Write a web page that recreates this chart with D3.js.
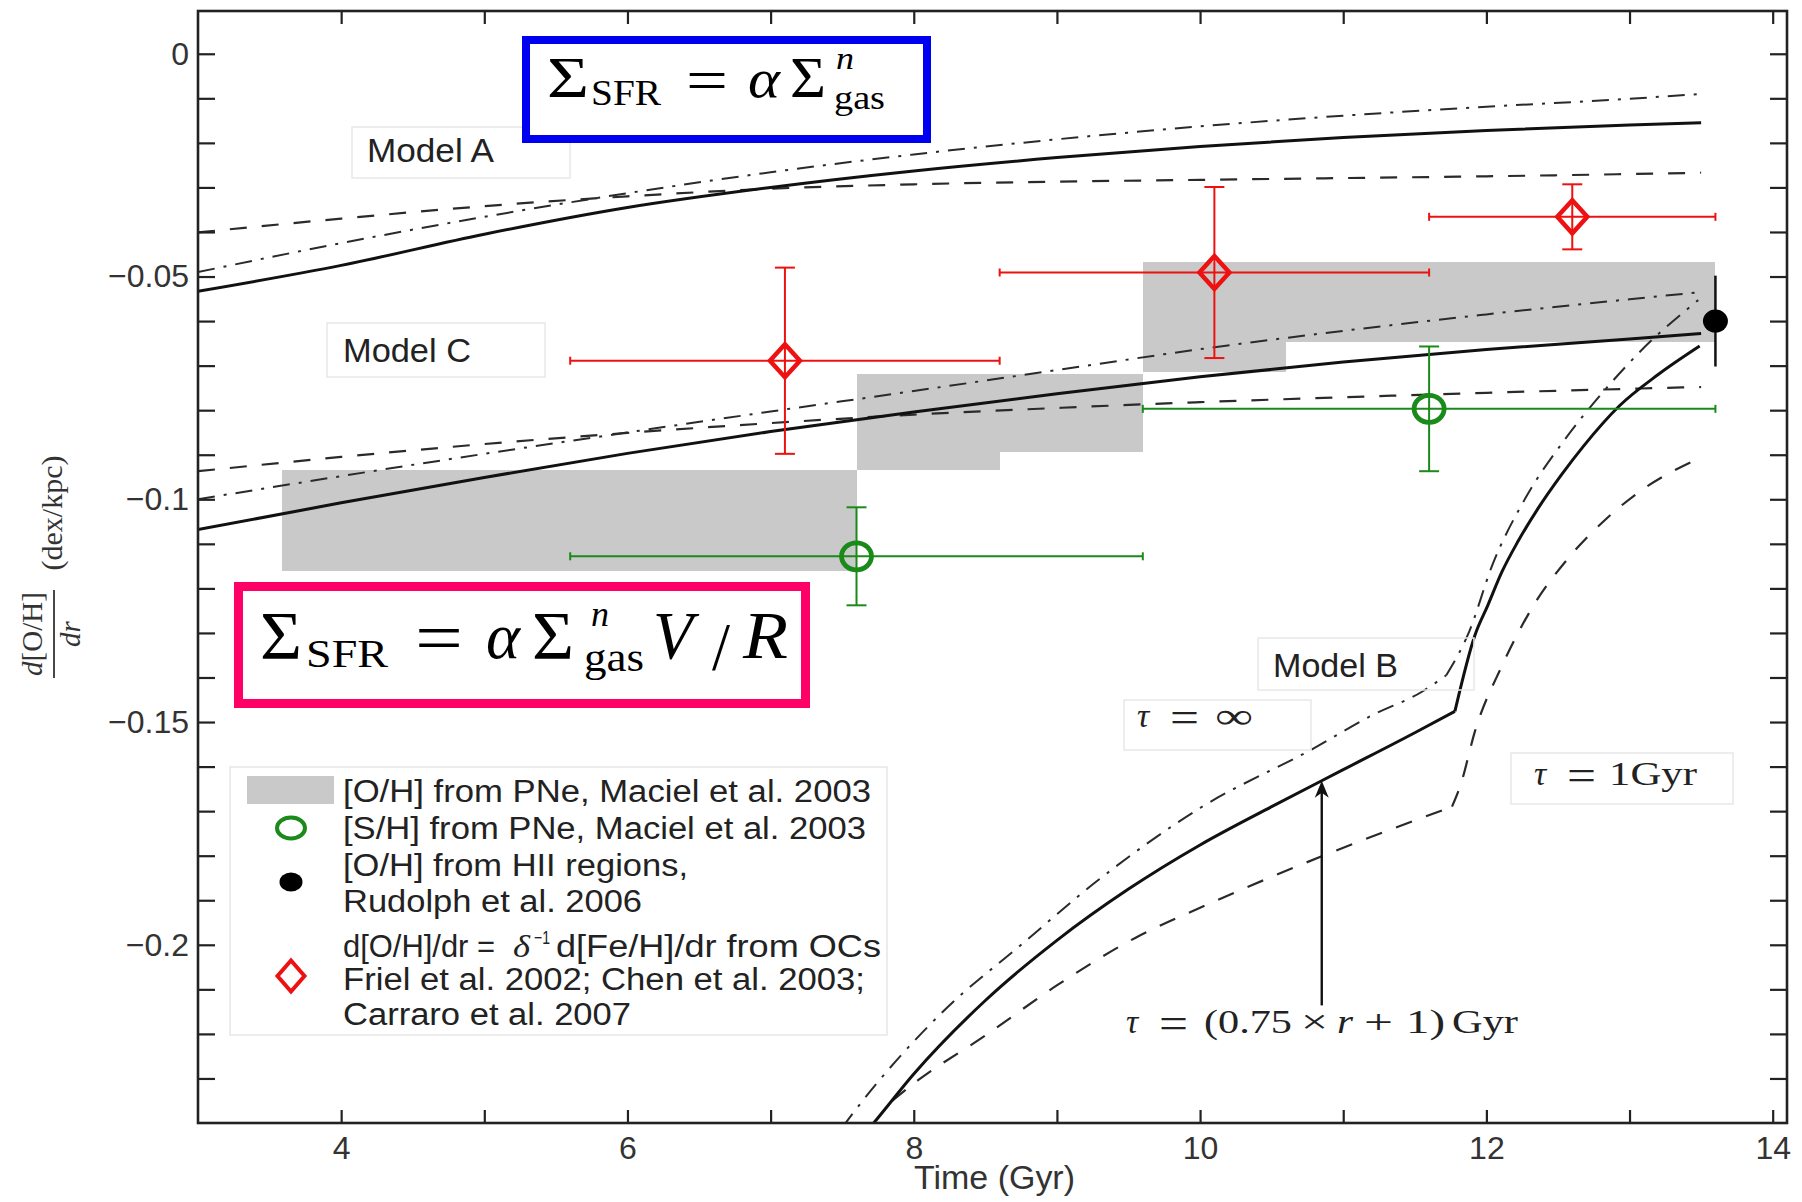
<!DOCTYPE html>
<html><head><meta charset="utf-8">
<script src="https://cdn.jsdelivr.net/npm/d3@7"></script>
<style>body{margin:0;background:#fff}svg{display:block}</style>
</head><body>
<svg id="chart" width="1802" height="1202"></svg>
<script>
// ---------------- DATA ----------------
const modelX = [3, 4, 5, 6, 7, 8, 9, 10, 11, 12, 13, 13.5];
const modelA_solid   = [-0.0533,-0.0475,-0.0405,-0.0345,-0.0300,-0.0263,-0.0233,-0.0208,-0.0188,-0.0172,-0.0160,-0.0155];
const modelA_dashed  = [-0.0401,-0.0370,-0.0342,-0.0320,-0.0303,-0.0293,-0.0287,-0.0283,-0.0279,-0.0275,-0.0270,-0.0267];
const modelA_dashdot = [-0.0490,-0.0425,-0.0366,-0.0313,-0.0266,-0.0226,-0.0192,-0.0163,-0.0139,-0.0119,-0.0101,-0.0090];
const modelC_solid   = [-0.1068,-0.1008,-0.0951,-0.0897,-0.0848,-0.0804,-0.0763,-0.0725,-0.0692,-0.0664,-0.0640,-0.0628];
const modelC_dashed  = [-0.0937,-0.0905,-0.0876,-0.0851,-0.0829,-0.0810,-0.0795,-0.0782,-0.0771,-0.0761,-0.0752,-0.0748];
const modelC_dashdot = [-0.1000,-0.0948,-0.0898,-0.0850,-0.0803,-0.0757,-0.0710,-0.0663,-0.0622,-0.0585,-0.0551,-0.0535];

const modelB_solid_x = [7.6, 7.72, 8.0, 8.5, 9.0, 9.5, 10.0, 10.5, 11.0, 11.5, 11.78, 11.92, 12.01, 12.11, 12.22, 12.36, 12.52, 12.68, 12.93, 13.2, 13.49];
const modelB_solid_y = [-0.2445,-0.2400,-0.2290,-0.2125,-0.1990,-0.1875,-0.1776,-0.1690,-0.1607,-0.1524,-0.1476,-0.1305,-0.1238,-0.1162,-0.1095,-0.1021,-0.0947,-0.0880,-0.0790,-0.0720,-0.0656];
const modelB_solid_kink = 10;
const modelB_dashdot_x = [7.5, 7.58, 8.21, 8.75, 9.28, 10.0, 10.8, 11.2, 11.55, 11.72, 11.88, 12.04, 12.27, 12.55, 12.8, 13.1, 13.48];
const modelB_dashdot_y = [-0.2410,-0.2376,-0.2148,-0.2000,-0.1857,-0.1693,-0.1558,-0.1485,-0.1432,-0.1395,-0.1297,-0.1149,-0.0999,-0.0865,-0.0765,-0.0660,-0.0553];
const modelB_dashdot_kink = 9;
const modelB_dashed_x = [7.85, 8.03, 8.48, 9.01, 9.55, 10.0, 10.86, 11.76, 11.82, 11.92, 12.11, 12.33, 12.57, 12.84, 13.1, 13.48];
const modelB_dashed_y = [-0.2350,-0.2304,-0.2208,-0.2089,-0.1984,-0.1917,-0.1800,-0.1690,-0.1641,-0.1521,-0.1373,-0.1238,-0.1133,-0.1043,-0.0976,-0.0909];
const modelB_dashed_kink = 7;

// [O/H] from PNe (grey boxes)
const pneX0  = [3.59, 7.6, 8.6, 9.6, 10.6];
const pneX1  = [7.6, 8.6, 9.6, 10.6, 13.6];
const pneYlo = [-0.1162,-0.0934,-0.0893,-0.0714,-0.0647];
const pneYhi = [-0.0934,-0.0718,-0.0718,-0.0467,-0.0467];

// [S/H] from PNe (green circles)
const shX    = [7.6, 11.6];
const shY    = [-0.1128, -0.0797];
const shXlo  = [5.6, 9.6];
const shXhi  = [9.6, 13.6];
const shYerr = [0.0110, 0.0140];

// OCs (red diamonds)
const ocX    = [7.1, 10.1, 12.6];
const ocY    = [-0.0689, -0.0491, -0.0366];
const ocXlo  = [5.6, 8.6, 11.6];
const ocXhi  = [8.6, 11.6, 13.6];
const ocYerr = [0.0209, 0.0192, 0.0073];

// HII regions (black dot)
const hiiX = [13.6];
const hiiY = [-0.0600];
const hiiYerr = [0.0102];

// ticks
const xTicks = [4,5,6,7,8,9,10,11,12,13,14];
const xTickLabels = ["4","","6","","8","","10","","12","","14"];
const yTicks = [0,-0.01,-0.02,-0.03,-0.04,-0.05,-0.06,-0.07,-0.08,-0.09,-0.1,-0.11,-0.12,-0.13,-0.14,-0.15,-0.16,-0.17,-0.18,-0.19,-0.2,-0.21,-0.22,-0.23];
const yTickLabels = ["0","","","","","\u22120.05","","","","","\u22120.1","","","","","\u22120.15","","","","","\u22120.2","","",""];

const legendLines = [
  "[O/H] from PNe, Maciel et al. 2003",
  "[S/H] from PNe, Maciel et al. 2003",
  "[O/H] from HII regions,",
  "Rudolph et al. 2006",
  null,
  "Friel et al. 2002; Chen et al. 2003;",
  "Carraro et al. 2007"
];

// ---------------- LAYOUT ----------------
const W = 1802, H = 1202;
const L = 198, R = 1787, T = 11, B = 1123;
const SANS = "'Liberation Sans', Arial, Helvetica, sans-serif";
const SERIF = "'Liberation Serif', 'Times New Roman', serif";

const x = d3.scaleLinear().domain([3, 14.1]).range([L, R]);
const y = d3.scaleLinear().domain([-0.24, 0.0096]).range([B, T]);

const svg = d3.select("#chart");
svg.append("rect").attr("width", W).attr("height", H).attr("fill", "#fff");
svg.append("defs").append("clipPath").attr("id", "clip")
  .append("rect").attr("x", L).attr("y", T).attr("width", R - L).attr("height", B - T);

const plot = svg.append("g").attr("clip-path", "url(#clip)");

// grey boxes
plot.selectAll("rect.pne").data(d3.range(pneX0.length)).join("rect")
  .attr("class", "pne")
  .attr("x", i => x(pneX0[i])).attr("width", i => x(pneX1[i]) - x(pneX0[i]))
  .attr("y", i => y(pneYhi[i])).attr("height", i => y(pneYlo[i]) - y(pneYhi[i]))
  .attr("fill", "#c9c9c9").attr("shape-rendering", "crispEdges");

// model lines
const styles = {
  solid:   {w: 3,   dash: null,        c: "#111"},
  dashed:  {w: 2.2, dash: "17 15",     c: "#2a2a2a"},
  dashdot: {w: 2.0, dash: "17 9 3 9",  c: "#2a2a2a"}
};
const lineGen = d3.line().x(d => x(d[0])).y(d => y(d[1])).curve(d3.curveMonotoneX);
function drawSeries(xs, ys, st, kink) {
  const pts = xs.map((v, i) => [v, ys[i]]);
  const parts = kink == null ? [pts] : [pts.slice(0, kink + 1), pts.slice(kink)];
  const s = styles[st];
  parts.forEach(p => {
    plot.append("path").attr("d", lineGen(p)).attr("fill", "none")
      .attr("stroke", s.c).attr("stroke-width", s.w)
      .attr("stroke-dasharray", s.dash).attr("stroke-linejoin", "round");
  });
}
drawSeries(modelX, modelA_dashed, "dashed");
drawSeries(modelX, modelA_dashdot, "dashdot");
drawSeries(modelX, modelA_solid, "solid");
drawSeries(modelX, modelC_dashed, "dashed");
drawSeries(modelX, modelC_dashdot, "dashdot");
drawSeries(modelX, modelC_solid, "solid");
drawSeries(modelB_dashed_x, modelB_dashed_y, "dashed", modelB_dashed_kink);
drawSeries(modelB_dashdot_x, modelB_dashdot_y, "dashdot", modelB_dashdot_kink);
drawSeries(modelB_solid_x, modelB_solid_y, "solid", modelB_solid_kink);

// error bars helper
function errBars(xs, ys, xlo, xhi, yerr, color, capY, capX, w) {
  const g = plot.append("g").attr("stroke", color).attr("stroke-width", w).attr("fill", "none");
  xs.forEach((xv, i) => {
    const cx = x(xv), cy = y(ys[i]);
    if (xlo) {
      g.append("line").attr("x1", x(xlo[i])).attr("x2", x(xhi[i])).attr("y1", cy).attr("y2", cy);
      if (capX > 0) {
        g.append("line").attr("x1", x(xlo[i])).attr("x2", x(xlo[i])).attr("y1", cy - capX).attr("y2", cy + capX);
        g.append("line").attr("x1", x(xhi[i])).attr("x2", x(xhi[i])).attr("y1", cy - capX).attr("y2", cy + capX);
      }
    }
    const yt = y(ys[i] + yerr[i]), yb = y(ys[i] - yerr[i]);
    g.append("line").attr("x1", cx).attr("x2", cx).attr("y1", yt).attr("y2", yb);
    if (capY > 0) {
      g.append("line").attr("x1", cx - capY).attr("x2", cx + capY).attr("y1", yt).attr("y2", yt);
      g.append("line").attr("x1", cx - capY).attr("x2", cx + capY).attr("y1", yb).attr("y2", yb);
    }
  });
}
const RED = "#ee1111", GREEN = "#1a8a1a";
errBars(shX, shY, shXlo, shXhi, shYerr, GREEN, 10, 4, 2);
errBars(ocX, ocY, ocXlo, ocXhi, ocYerr, RED, 10, 4, 2);
errBars(hiiX, hiiY, null, null, hiiYerr, "#111", 0, 0, 2.5);

// markers
plot.selectAll("ellipse.sh").data(d3.range(shX.length)).join("ellipse")
  .attr("cx", i => x(shX[i])).attr("cy", i => y(shY[i])).attr("rx", 15).attr("ry", 13.5)
  .attr("fill", "none").attr("stroke", GREEN).attr("stroke-width", 4.8);
function diamond(cx, cy, hw, hh) { return `M${cx},${cy-hh}L${cx+hw},${cy}L${cx},${cy+hh}L${cx-hw},${cy}Z`; }
plot.selectAll("path.oc").data(d3.range(ocX.length)).join("path")
  .attr("d", i => diamond(x(ocX[i]), y(ocY[i]), 15, 16.5))
  .attr("fill", "none").attr("stroke", RED).attr("stroke-width", 4.5).attr("stroke-linejoin", "miter");
plot.selectAll("ellipse.hii").data(d3.range(hiiX.length)).join("ellipse")
  .attr("cx", i => x(hiiX[i])).attr("cy", i => y(hiiY[i])).attr("rx", 12.5).attr("ry", 11.5).attr("fill", "#000");

// ---------------- AXES ----------------
const axG = svg.append("g");
axG.append("g").attr("transform", `translate(0,${B})`)
  .call(d3.axisBottom(x).tickValues(xTicks).tickFormat((d, i) => xTickLabels[i]).tickSize(-13).tickSizeOuter(0).tickPadding(13));
axG.append("g").attr("transform", `translate(0,${T})`)
  .call(d3.axisTop(x).tickValues(xTicks).tickFormat("").tickSize(-13).tickSizeOuter(0));
axG.append("g").attr("transform", `translate(${L},0)`)
  .call(d3.axisLeft(y).tickValues(yTicks).tickFormat((d, i) => yTickLabels[i]).tickSize(-17).tickSizeOuter(0).tickPadding(9));
axG.append("g").attr("transform", `translate(${R},0)`)
  .call(d3.axisRight(y).tickValues(yTicks).tickFormat("").tickSize(-17).tickSizeOuter(0));
axG.selectAll(".domain").remove();
axG.selectAll(".tick line").attr("stroke", "#222").attr("stroke-width", 2.2);
axG.selectAll(".tick text").attr("font-family", SANS).attr("font-size", 32).attr("fill", "#333");
axG.append("rect").attr("x", L).attr("y", T).attr("width", R - L).attr("height", B - T)
  .attr("fill", "none").attr("stroke", "#222").attr("stroke-width", 2.6);

// x label
svg.append("text").attr("x", 914).attr("y", 1189).attr("font-family", SANS).attr("font-size", 33)
  .attr("fill", "#333").attr("textLength", 161).attr("lengthAdjust", "spacingAndGlyphs").text("Time (Gyr)");

// y label (fraction)
const yl = svg.append("g").attr("transform", "translate(54,565) rotate(-90)")
  .attr("font-family", SERIF).attr("fill", "#333");
yl.append("line").attr("x1", -113).attr("x2", -25).attr("y1", 0).attr("y2", 0).attr("stroke", "#333").attr("stroke-width", 1.8);
const num = yl.append("text").attr("x", -69).attr("y", -12).attr("text-anchor", "middle").attr("font-size", 29);
num.append("tspan").attr("font-style", "italic").text("d");
num.append("tspan").text("[O/H]");
yl.append("text").attr("x", -69).attr("y", 26).attr("text-anchor", "middle").attr("font-size", 29).attr("font-style", "italic").text("dr");
yl.append("text").attr("x", 52).attr("y", 8).attr("text-anchor", "middle").attr("font-size", 30).text("(dex/kpc)");

// ---------------- ANNOTATIONS ----------------
const ann = svg.append("g");
function faintBox(x0, y0, x1, y1) {
  ann.append("rect").attr("x", x0).attr("y", y0).attr("width", x1 - x0).attr("height", y1 - y0)
    .attr("fill", "none").attr("stroke", "#e8e8e8").attr("stroke-width", 1.5);
}
function label(txt, x0, base, size, len, fam, italic) {
  const t = ann.append("text").attr("x", x0).attr("y", base).attr("font-family", fam || SANS).attr("font-size", size)
    .attr("font-style", italic ? "italic" : "normal").attr("fill", "#222").text(txt);
  if (len) t.attr("textLength", len).attr("lengthAdjust", "spacingAndGlyphs");
  return t;
}
faintBox(352, 127, 570, 178); label("Model A", 367, 162, 33, 127);
faintBox(327, 323, 545, 377); label("Model C", 343, 362, 33, 128);
faintBox(1258, 638, 1474, 690); label("Model B", 1273, 677, 33, 125);

// tau labels
faintBox(1124, 700, 1311, 750);
label("\u03c4", 1137, 727, 34, null, SERIF, true);
label("=", 1170, 732, 44, 29, SERIF);
label("\u221e", 1215, 728, 36, 38, SERIF);
faintBox(1511, 753, 1733, 804);
label("\u03c4", 1534, 785, 34, null, SERIF, true);
label("=", 1567, 790, 44, 29, SERIF);
label("1Gyr", 1609, 785, 34, 88, SERIF);
label("\u03c4", 1126, 1033, 34, null, SERIF, true);
label("=", 1159, 1038, 44, 29, SERIF);
label("(0.75", 1204, 1033, 33, 88, SERIF);
label("\u00d7", 1301, 1033, 33, 27, SERIF);
label("r", 1337, 1033, 33, 16, SERIF, true);
label("+", 1364, 1033, 33, 29, SERIF);
label("1)", 1406, 1033, 33, 39, SERIF);
label("Gyr", 1452, 1033, 33, 66, SERIF);

// arrow
const arrX = x(10.85), arrTip = y(-0.1632), arrBot = y(-0.2136);
ann.append("line").attr("x1", arrX).attr("x2", arrX).attr("y1", arrBot).attr("y2", arrTip + 10)
  .attr("stroke", "#111").attr("stroke-width", 2.4);
ann.append("path").attr("d", `M${arrX},${arrTip}L${arrX + 7},${arrTip + 17}L${arrX},${arrTip + 12}L${arrX - 7},${arrTip + 17}Z`)
  .attr("fill", "#111");

// blue equation box
ann.append("rect").attr("x", 526).attr("y", 40).attr("width", 401).attr("height", 99)
  .attr("fill", "#fff").attr("stroke", "#0000f0").attr("stroke-width", 8);
function piece(txt, x0, base, size, len, italic) {
  ann.append("text").attr("x", x0).attr("y", base).attr("font-family", SERIF).attr("font-size", size)
    .attr("font-style", italic ? "italic" : "normal").attr("fill", "#000")
    .attr("textLength", len).attr("lengthAdjust", "spacingAndGlyphs").text(txt);
}
piece("\u03a3", 547, 97, 56, 42);
piece("SFR", 591, 105, 35, 70);
piece("=", 686, 100, 60, 42);
piece("\u03b1", 748, 97, 54, 32, true);
piece("\u03a3", 790, 97, 56, 36);
piece("n", 836, 69, 31, 18, true);
piece("gas", 834, 109, 34, 51);

// pink equation box
ann.append("rect").attr("x", 238.5).attr("y", 586.5).attr("width", 567).attr("height", 117)
  .attr("fill", "#fff").attr("stroke", "#ff0066").attr("stroke-width", 9);
piece("\u03a3", 260, 658, 67, 42);
piece("SFR", 306, 667, 40, 82);
piece("=", 415, 662, 72, 48);
piece("\u03b1", 486, 658, 66, 34, true);
piece("\u03a3", 532, 658, 67, 42);
piece("n", 591, 626, 36, 18, true);
piece("gas", 584, 671, 40, 60);
piece("V", 653, 658, 67, 40, true);
piece("/", 712, 669, 67, 18);
piece("R", 743, 658, 67, 45, true);

// ---------------- LEGEND ----------------
const lg = svg.append("g");
lg.append("rect").attr("x", 230).attr("y", 767).attr("width", 657).attr("height", 268)
  .attr("fill", "#fff").attr("stroke", "#e6e6e6").attr("stroke-width", 1.5);
lg.append("rect").attr("x", 247).attr("y", 776).attr("width", 87).attr("height", 28).attr("fill", "#c9c9c9");
lg.append("ellipse").attr("cx", 291).attr("cy", 828).attr("rx", 14).attr("ry", 10.5)
  .attr("fill", "none").attr("stroke", GREEN).attr("stroke-width", 4);
lg.append("ellipse").attr("cx", 291).attr("cy", 882).attr("rx", 11.5).attr("ry", 9.5).attr("fill", "#000");
lg.append("path").attr("d", diamond(291, 976, 13.5, 15.5)).attr("fill", "none").attr("stroke", RED).attr("stroke-width", 4);
const lgBase = [802, 839, 876, 912, 957, 990, 1025];
const lgLen  = [528, 523, 345, 299, 538, 522, 288];
function lgText(t, x0, base, len, size, fam, italic) {
  lg.append("text").attr("x", x0).attr("y", base).attr("font-family", fam || SANS).attr("font-size", size || 31)
    .attr("font-style", italic ? "italic" : "normal")
    .attr("fill", "#222").attr("textLength", len).attr("lengthAdjust", "spacingAndGlyphs").text(t);
}
legendLines.forEach((t, i) => { if (t !== null) lgText(t, 343, lgBase[i], lgLen[i]); });
lgText("d[O/H]/dr =", 343, lgBase[4], 152);
lgText("\u03b4", 513, lgBase[4], 17, 31, SERIF, true);
lgText("\u22121", 534, lgBase[4] - 13, 16, 19);
lgText("d[Fe/H]/dr from OCs", 556, lgBase[4], 325);
</script>
</body></html>
